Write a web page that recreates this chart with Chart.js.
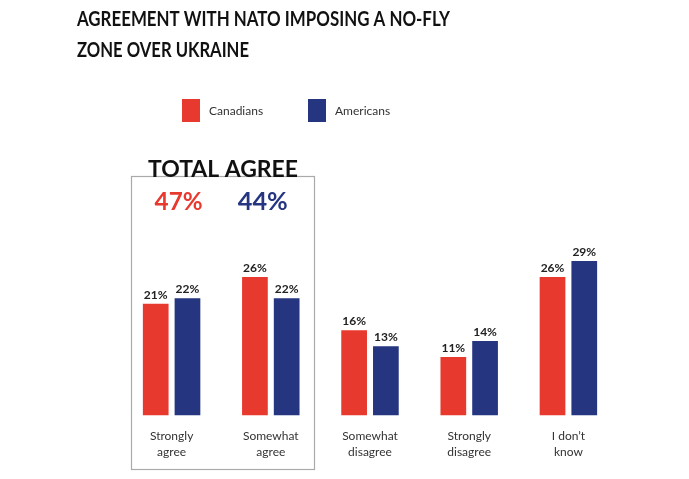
<!DOCTYPE html>
<html>
<head>
<meta charset="utf-8">
<script src="https://cdn.jsdelivr.net/npm/chart.js@4"></script>
<style>
  html, body { margin: 0; padding: 0; background: #fff; }
  #wrap { width: 689px; height: 479px; position: relative; }
</style>
</head>
<body>
<div id="wrap"><canvas id="noFlyChart"></canvas></div>
<script>
// data
const categories = [['Strongly', 'agree'], ['Somewhat', 'agree'], ['Somewhat', 'disagree'], ['Strongly', 'disagree'], ['I don\u2019t', 'know']];
const seriesNames = ['Canadians', 'Americans'];
const canadians = [21, 26, 16, 11, 26];
const americans = [22, 22, 13, 14, 29];
const totalAgree = [47, 44];
const titleLines = ['AGREEMENT WITH NATO IMPOSING A NO-FLY', 'ZONE OVER UKRAINE'];

const RED = '#e8392f';
const NAVY = '#263580';
const FONT = "Lato, 'Open Sans', sans-serif";

// draw text squeezed/stretched to a target width (the source font is narrow)
function fitText(ctx, text, x, y, width, font, color, align) {
    ctx.save();
    ctx.font = font;
    ctx.fillStyle = color;
    ctx.textBaseline = 'alphabetic';
    const w = ctx.measureText(text).width;
    const s = width / w;
    let left = x;
    if (align === 'center') left = x - width / 2;
    ctx.translate(left, y);
    ctx.scale(s, 1);
    ctx.textAlign = 'left';
    ctx.fillText(text, 0, 0);
    ctx.restore();
}

const decorations = {
    id: 'decorations',
    afterDatasetsDraw(chart) {
        const ctx = chart.ctx;
        const x = chart.scales.x;

        // title
        fitText(ctx, titleLines[0], 77, 26, 373, `bold 21px ${FONT}`, '#111');
        fitText(ctx, titleLines[1], 77, 57, 172, `bold 21px ${FONT}`, '#111');

        // legend
        const legendX = [182, 308];
        [RED, NAVY].forEach((c, i) => {
            ctx.fillStyle = c;
            ctx.fillRect(legendX[i], 99, 18, 23);
            ctx.font = `12px ${FONT}`;
            ctx.fillStyle = '#333';
            ctx.textAlign = 'left';
            ctx.textBaseline = 'middle';
            ctx.fillText(seriesNames[i], legendX[i] + 27, 111);
        });

        // total agree box
        const bx0 = Math.round(x.getPixelForValue(0) - 41) + 0.5;
        const bx1 = Math.round(x.getPixelForValue(1) + 43) + 0.5;
        ctx.strokeStyle = '#aaa';
        ctx.lineWidth = 1.2;
        ctx.strokeRect(bx0, 176.5, bx1 - bx0, 293);
        fitText(ctx, 'TOTAL AGREE', (bx0 + bx1) / 2, 177, 150, `bold 22px ${FONT}`, '#111', 'center');
        fitText(ctx, totalAgree[0] + '%', x.getPixelForValue(0) + 7, 210, 48, `bold 24px ${FONT}`, RED, 'center');
        fitText(ctx, totalAgree[1] + '%', x.getPixelForValue(1) - 8, 210, 50, `bold 24px ${FONT}`, NAVY, 'center');

        // value labels
        ctx.font = `bold 12px ${FONT}`;
        ctx.fillStyle = '#222';
        ctx.textAlign = 'center';
        ctx.textBaseline = 'bottom';
        chart.data.datasets.forEach((ds, di) => {
            chart.getDatasetMeta(di).data.forEach((bar, i) => {
                ctx.fillText(ds.data[i] + '%', bar.x, bar.y - 3);
            });
        });
    }
};

new Chart(document.getElementById('noFlyChart'), {
    type: 'bar',
    data: {
        labels: categories,
        datasets: [
            { label: seriesNames[0], data: canadians, backgroundColor: RED },
            { label: seriesNames[1], data: americans, backgroundColor: NAVY }
        ]
    },
    options: {
        responsive: true,
        maintainAspectRatio: false,
        animation: false,
        layout: { padding: { left: 122, right: 71, top: 229, bottom: 7 } },
        datasets: { bar: { barPercentage: 0.81, categoryPercentage: 0.64 } },
        scales: {
            x: {
                grid: { display: false, drawTicks: false },
                border: { display: false },
                ticks: {
                    color: '#333',
                    padding: 12,
                    maxRotation: 0,
                    font: { family: FONT, size: 12, lineHeight: 1.35 }
                }
            },
            y: {
                display: false,
                min: 0,
                max: 35
            }
        },
        plugins: {
            legend: { display: false },
            tooltip: { enabled: false }
        }
    },
    plugins: [decorations]
});
</script>
</body>
</html>
